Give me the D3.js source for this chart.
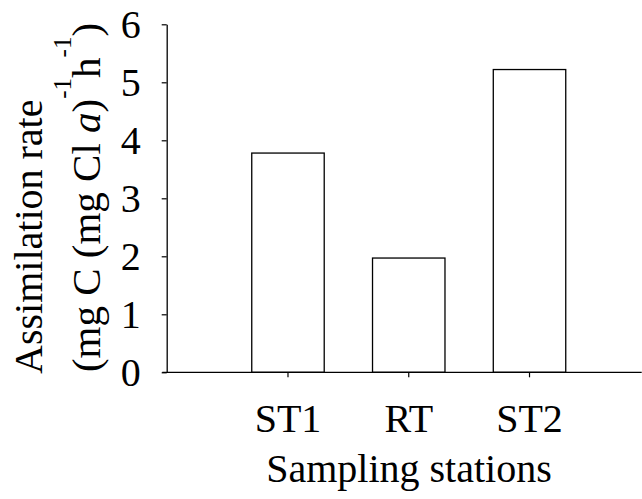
<!DOCTYPE html>
<html>
<head>
<meta charset="utf-8">
<script src="https://cdn.jsdelivr.net/npm/d3@7"></script>
<style>
  html, body { margin: 0; padding: 0; background: #fff; }
  svg { display: block; }
  text { font-family: "Liberation Serif", "Times New Roman", serif; fill: #000; }
</style>
</head>
<body>
<svg id="chart" width="642" height="499"></svg>
<script>
const categories = ["ST1", "RT", "ST2"];
const values = [3.78, 1.97, 5.22];
const yTicks = [0, 1, 2, 3, 4, 5, 6];
const xTitle = "Sampling stations";
const yTitle1 = "Assimilation rate";

const svg = d3.select("#chart");
const FS = 40;
const SERIF = '"Liberation Serif", "Times New Roman", serif';

const y = d3.scaleLinear().domain([0, 6]).range([372.3, 24.3]);
const x = d3.scaleBand().domain(categories).range([227.6, 589.9])
  .paddingInner(0.4).paddingOuter(0.2);

const axisX0 = 166.7;

// bars
svg.append("g").selectAll("rect").data(categories).join("rect")
  .attr("x", d => x(d))
  .attr("y", (d, i) => y(values[i]))
  .attr("width", x.bandwidth())
  .attr("height", (d, i) => y(0) - y(values[i]))
  .attr("fill", "#fff")
  .attr("stroke", "#000")
  .attr("stroke-width", 1.3);

// y axis
const gy = svg.append("g").attr("transform", `translate(${axisX0},0)`)
  .call(d3.axisLeft(y).tickValues(yTicks).tickFormat(d3.format("d"))
    .tickSize(5).tickSizeOuter(0).tickPadding(21));
gy.attr("font-family", SERIF);
gy.select(".domain").attr("stroke", "#000").attr("stroke-width", 1.3);
gy.selectAll(".tick line").attr("stroke", "#000").attr("stroke-width", 1.2);
gy.selectAll(".tick text").attr("font-size", FS).attr("dy", "0.34em")
  .style("font-family", SERIF);

// x axis
const gx = svg.append("g").attr("transform", `translate(0,${y(0)})`)
  .call(d3.axisBottom(x).tickSize(5).tickSizeOuter(0));
gx.attr("font-family", SERIF);
gx.select(".domain").remove();
gx.selectAll(".tick line").attr("stroke", "#000").attr("stroke-width", 1.2);
gx.selectAll(".tick text").attr("font-size", FS).attr("y", 59.7).attr("dy", "0")
  .style("font-family", SERIF);
svg.append("line")
  .attr("x1", axisX0 - 4.4).attr("x2", 641.7)
  .attr("y1", y(0)).attr("y2", y(0))
  .attr("stroke", "#000").attr("stroke-width", 1.3);

// x title
svg.append("text").attr("x", 409).attr("y", 482)
  .attr("text-anchor", "middle").attr("font-size", FS).text(xTitle);

// y title line 1
svg.append("text")
  .attr("transform", "translate(41.7,236.7) rotate(-90)")
  .attr("text-anchor", "middle").attr("font-size", FS).text(yTitle1);

// y title line 2
const t2 = svg.append("text")
  .attr("transform", "translate(100,197.5) rotate(-90)")
  .attr("text-anchor", "middle").attr("font-size", 41);
t2.append("tspan").text("(mg C (mg Cl ");
t2.append("tspan").attr("font-style", "italic").text("a");
t2.append("tspan").text(")");
t2.append("tspan").attr("font-size", 25).attr("dy", -29).text("-1");
t2.append("tspan").attr("dy", 29).text("h");
t2.append("tspan").attr("font-size", 25).attr("dy", -29).text("-1");
t2.append("tspan").attr("dy", 29).text(")");
</script>
</body>
</html>
